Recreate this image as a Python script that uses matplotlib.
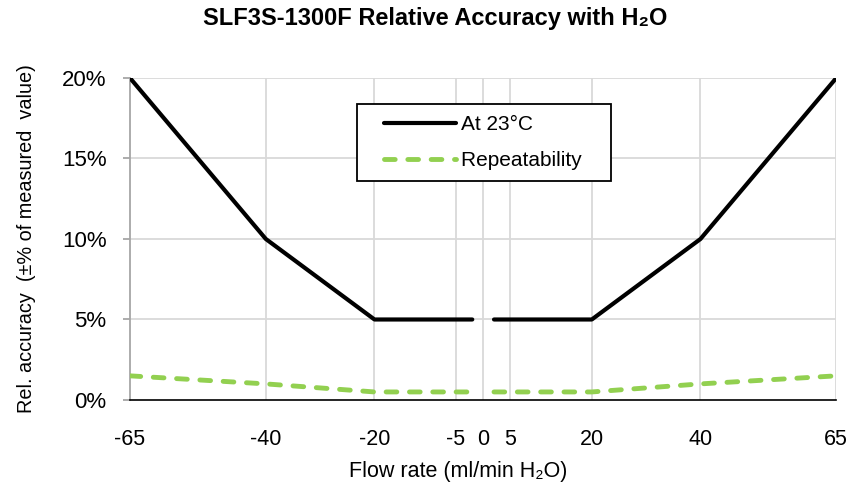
import matplotlib
matplotlib.use('Agg')
import matplotlib.pyplot as plt
from matplotlib.legend_handler import HandlerLine2D

matplotlib.rcParams['font.family'] = ['Liberation Sans', 'DejaVu Sans']

# data
flow_neg = [-65, -40, -20, -2]
flow_pos = [2, 20, 40, 65]
acc_neg = [20, 10, 5, 5]
acc_pos = [5, 5, 10, 20]
rep_neg = [1.5, 1.0, 0.5, 0.5]
rep_pos = [0.5, 0.5, 1.0, 1.5]

x_ticks = [-65, -40, -20, -5, 0, 5, 20, 40, 65]
y_ticks = [0, 5, 10, 15, 20]

black = '#000000'
green = '#92D050'
grid_col = '#D9D9D9'


class ShiftedLine(HandlerLine2D):
    # legend line starts a bit right of the handle box (extra left padding)
    def get_xdata(self, legend, xdescent, ydescent, width, height, fontsize):
        shift = 0.75 * fontsize
        xdata = [-xdescent + shift, -xdescent + width]
        return xdata, xdata


fig = plt.figure(figsize=(8.53, 4.92), dpi=100)
ax = fig.add_axes([0.1524, 0.187, 0.828, 0.6545])

l1, = ax.plot(flow_neg, acc_neg, color=black, lw=3, solid_capstyle='round',
              solid_joinstyle='round', label='At 23°C', zorder=3)
ax.plot(flow_pos, acc_pos, color=black, lw=3, solid_capstyle='round',
        solid_joinstyle='round', zorder=3)
l2, = ax.plot(flow_neg, rep_neg, color=green, lw=3.5, dashes=(2.2, 2.6),
              dash_capstyle='round', label='Repeatability   ', zorder=3)
ax.plot(flow_pos, rep_pos, color=green, lw=3.5, dashes=(2.2, 2.6),
        dash_capstyle='round', zorder=3)

ax.set_xlim(-65, 65)
ax.set_ylim(0, 20)
ax.set_xticks(x_ticks)
ax.set_xticklabels([str(v) for v in x_ticks])
ax.set_yticks(y_ticks)
ax.set_yticklabels([f'{v}%' for v in y_ticks])

for v in x_ticks[1:]:
    ax.axvline(v, color=grid_col, lw=1.3, zorder=1)
for v in y_ticks[1:]:
    ax.axhline(v, color=grid_col, lw=1.3, zorder=1)

for s in ['top', 'right']:
    ax.spines[s].set_visible(False)
ax.spines['left'].set_color('#A6A6A6')
ax.spines['left'].set_linewidth(1.3)
ax.spines['bottom'].set_color('#000000')
ax.spines['bottom'].set_linewidth(1.2)
ax.tick_params(axis='y', length=5, color='#A6A6A6', width=1.3, labelsize=16, pad=12)
ax.tick_params(axis='x', length=0, labelsize=15.5, pad=21)

ax.set_xlabel('Flow rate (ml/min H₂O)', fontsize=15.5)
ax.xaxis.set_label_coords(0.465, -0.19)
ax.set_ylabel('Rel. accuracy  (±% of measured  value)', fontsize=14.3)
ax.yaxis.set_label_coords(-0.133, 0.5)

fig.suptitle('SLF3S-1300F Relative Accuracy with H₂O', x=0.51, y=0.985,
             fontsize=17, fontweight='bold',
             family=['Liberation Sans Narrow', 'Liberation Sans', 'DejaVu Sans'])

leg = ax.legend(handles=[l1, l2], loc='upper left', bbox_to_anchor=(0.3215, 0.92),
                borderaxespad=0, fontsize=15, frameon=True, fancybox=False,
                framealpha=1, edgecolor='black', handlelength=4.2,
                handletextpad=0.25, borderpad=0.55, labelspacing=0.8,
                handler_map={l1: ShiftedLine(), l2: ShiftedLine()})
leg.get_frame().set_linewidth(1.3)

fig.savefig('out.png', dpi=100)
